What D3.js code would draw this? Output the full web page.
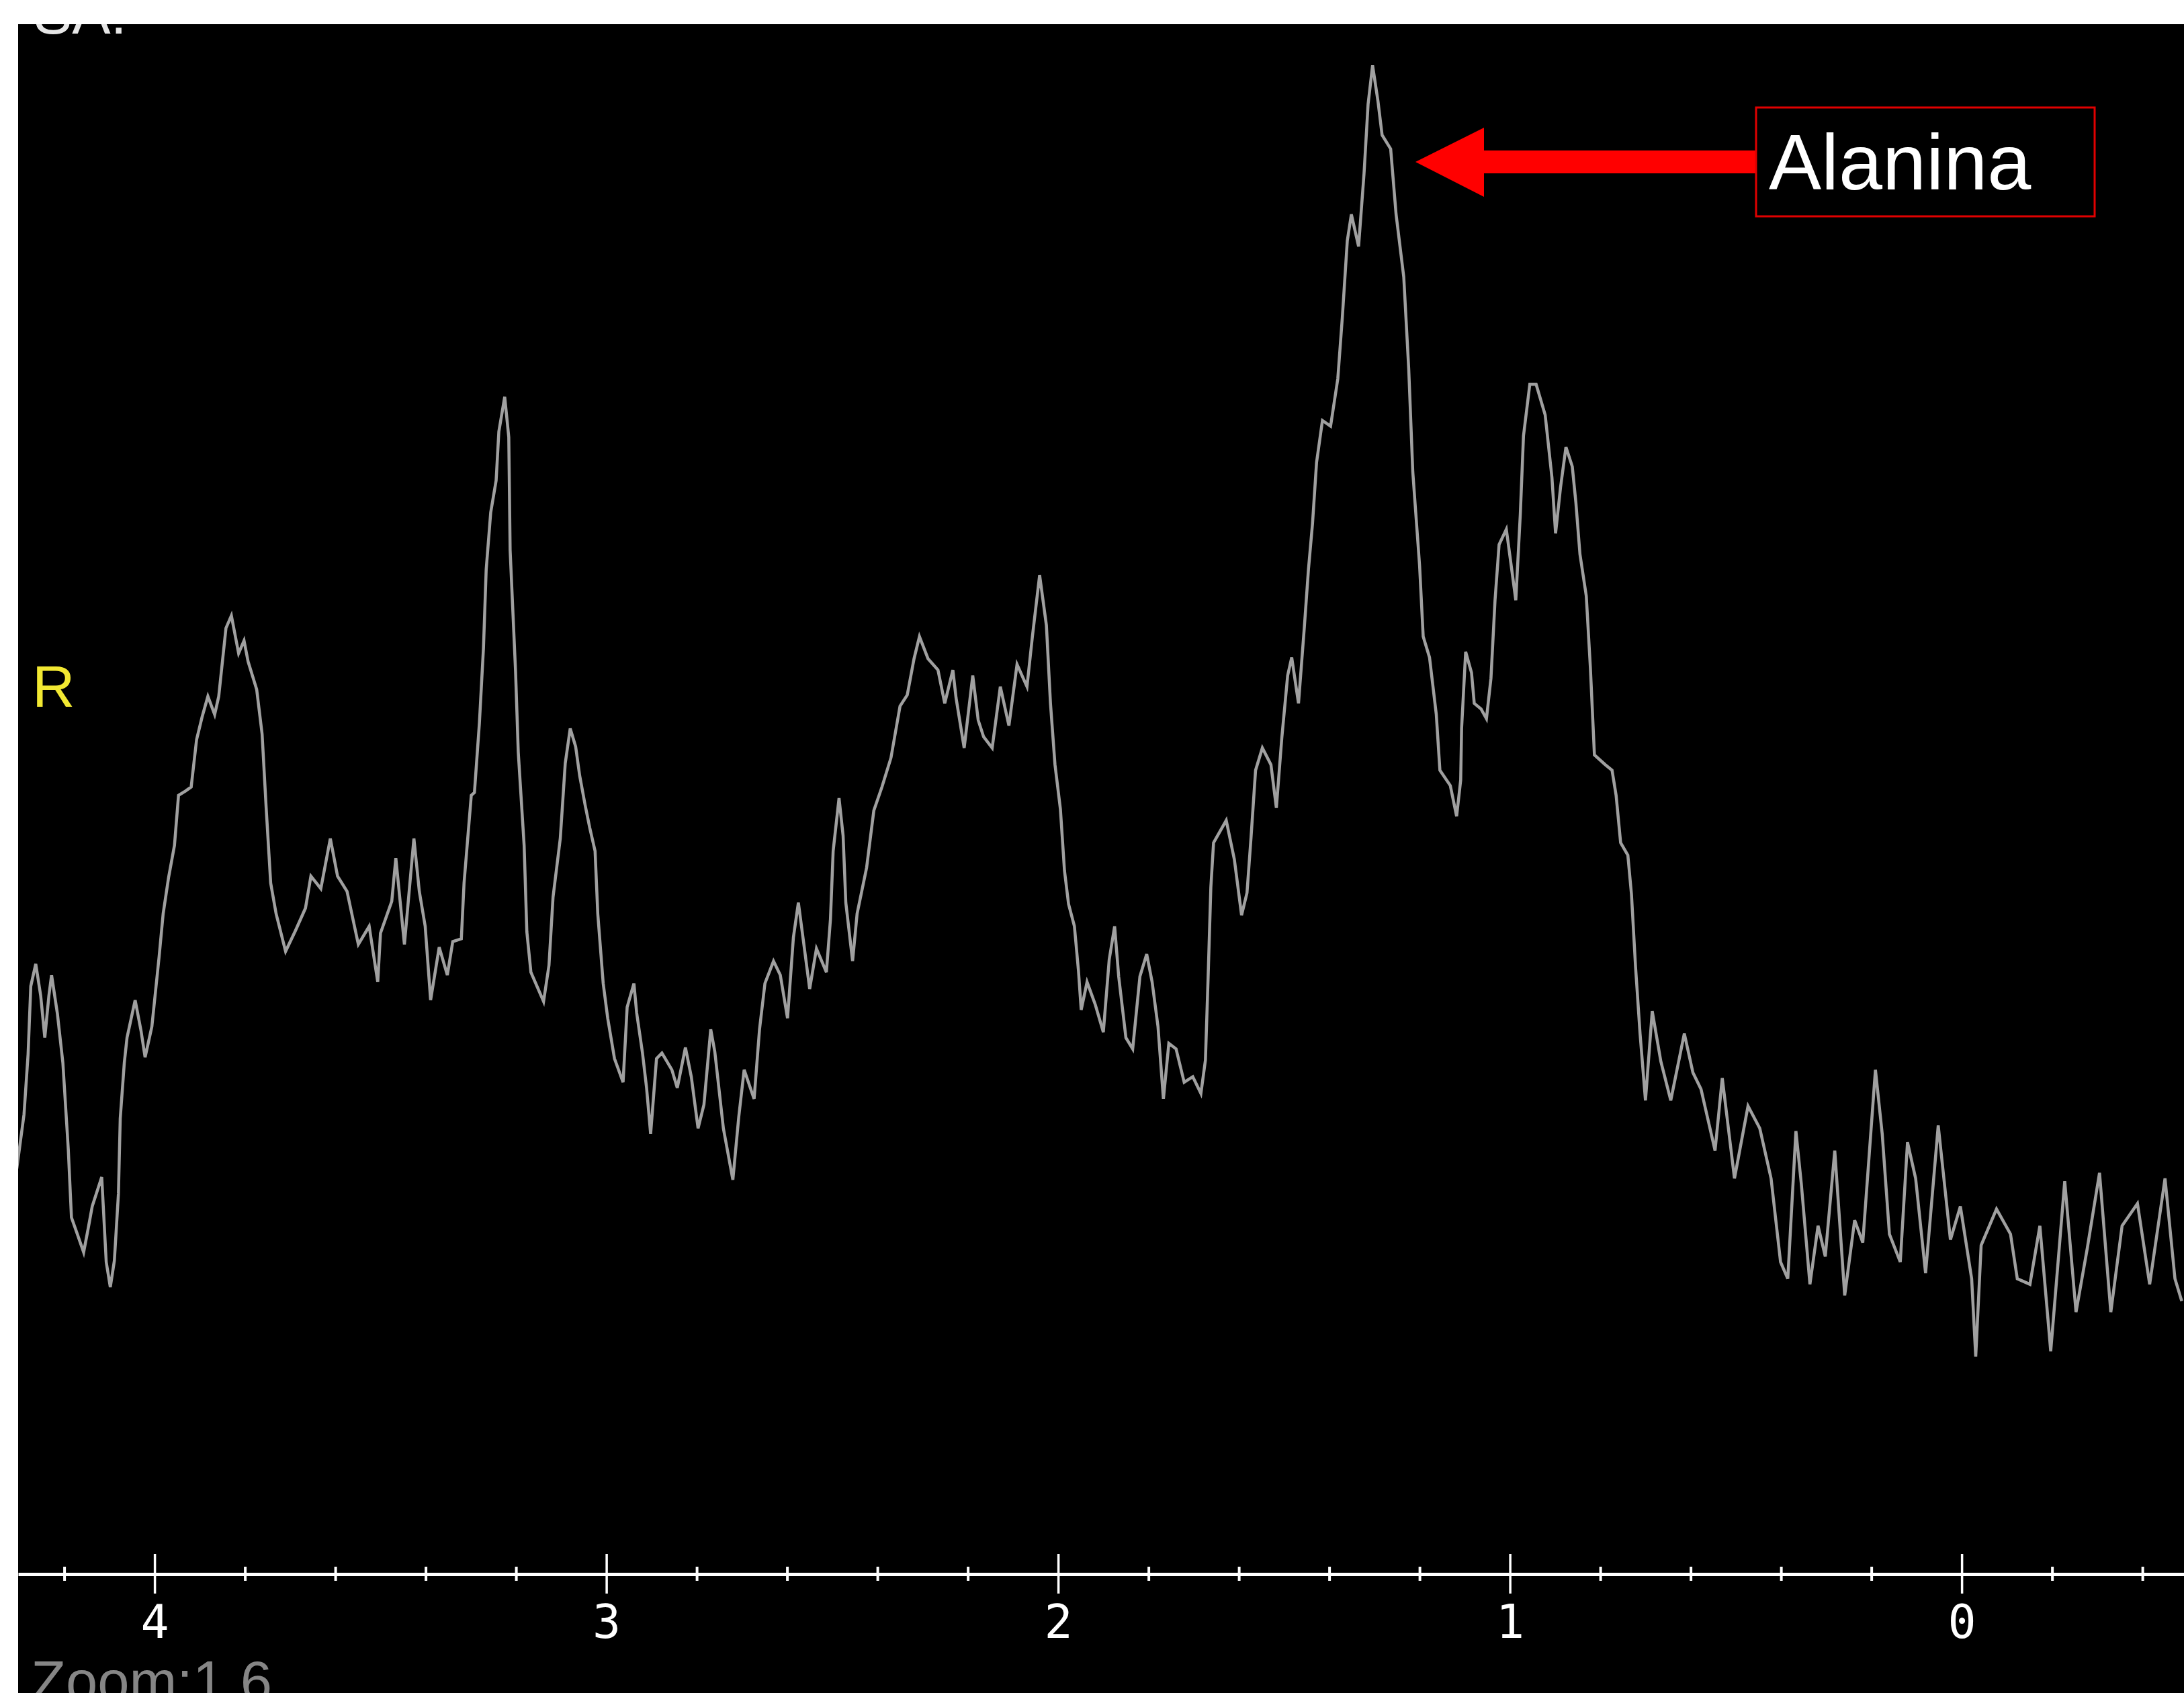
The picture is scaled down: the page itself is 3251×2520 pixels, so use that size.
<!DOCTYPE html>
<html>
<head>
<meta charset="utf-8">
<script src="https://cdn.jsdelivr.net/npm/d3@7/dist/d3.min.js"></script>
<style>
  html, body { margin: 0; padding: 0; background: #fff; }
  svg { display: block; }
</style>
</head>
<body>
<div id="chart"></div>
<script>
// chemical shift (ppm) and signal height (a.u.)
var ppm = [
  4.305, 4.289, 4.280, 4.274, 4.263, 4.252, 4.243, 4.234, 4.228, 4.215, 4.203, 4.191, 4.184, 4.172, 4.157, 4.147,
  4.138, 4.117, 4.107, 4.098, 4.089, 4.080, 4.076, 4.067, 4.061, 4.043, 4.030, 4.021, 4.006, 3.990, 3.981, 3.969,
  3.956, 3.947, 3.932, 3.919, 3.907, 3.895, 3.882, 3.867, 3.858, 3.842, 3.830, 3.814, 3.802, 3.793, 3.774, 3.762,
  3.753, 3.743, 3.731, 3.710, 3.688, 3.666, 3.654, 3.632, 3.611, 3.595, 3.574, 3.549, 3.525, 3.506, 3.500, 3.475,
  3.466, 3.447, 3.426, 3.414, 3.401, 3.389, 3.370, 3.352, 3.340, 3.321, 3.315, 3.299,
  3.292, 3.281, 3.272, 3.266, 3.256, 3.244, 3.238, 3.225, 3.216, 3.213, 3.201, 3.195, 3.182, 3.176, 3.167, 3.139,
  3.127, 3.118, 3.102, 3.091, 3.080, 3.068, 3.059, 3.047, 3.037, 3.025, 3.019, 3.007, 2.997, 2.982, 2.963, 2.954,
  2.939, 2.933, 2.920, 2.911, 2.902, 2.889, 2.877, 2.855, 2.843, 2.825, 2.812, 2.797, 2.784, 2.769, 2.760, 2.751,
  2.741, 2.720, 2.707, 2.695, 2.673, 2.661, 2.649, 2.630, 2.615, 2.599, 2.586, 2.575, 2.562, 2.550, 2.535, 2.513,
  2.504, 2.498, 2.485, 2.476, 2.470, 2.455, 2.445, 2.424, 2.408, 2.390, 2.370, 2.350, 2.334,
  2.319, 2.307, 2.288, 2.266, 2.251, 2.233, 2.226, 2.208, 2.189, 2.177, 2.165, 2.146, 2.128, 2.109, 2.091, 2.069,
  2.057, 2.041, 2.026, 2.017, 2.007, 1.995, 1.986, 1.977, 1.964, 1.955, 1.949, 1.936, 1.918, 1.900, 1.887, 1.875,
  1.866, 1.850, 1.835, 1.819, 1.804, 1.792, 1.779, 1.767, 1.755, 1.739, 1.721, 1.702, 1.684, 1.674, 1.668, 1.662,
  1.656, 1.628, 1.610, 1.594, 1.582, 1.573, 1.563, 1.548, 1.529, 1.517, 1.505, 1.492, 1.483, 1.468, 1.455, 1.446,
  1.437, 1.428, 1.415, 1.397, 1.381, 1.371, 1.360, 1.351, 1.335, 1.323, 1.314, 1.304, 1.292, 1.283, 1.264, 1.252,
  1.235, 1.224, 1.215, 1.200, 1.192, 1.178, 1.163, 1.155, 1.132, 1.118, 1.109, 1.107, 1.098, 1.085, 1.079, 1.064,
  1.052, 1.042, 1.033, 1.024, 1.008, 0.996, 0.987, 0.977, 0.970, 0.956, 0.942, 0.922, 0.907, 0.899, 0.888, 0.876,
  0.862, 0.854, 0.845, 0.831, 0.822, 0.813, 0.789, 0.774, 0.765, 0.755,
  0.739, 0.731, 0.722, 0.712, 0.700, 0.685, 0.666, 0.644, 0.614, 0.595, 0.577, 0.546, 0.530, 0.503, 0.473, 0.447,
  0.422, 0.401, 0.385, 0.367, 0.355, 0.336, 0.318, 0.302, 0.281, 0.259, 0.237, 0.219, 0.191, 0.176, 0.160, 0.136,
  0.120, 0.102, 0.080, 0.052, 0.025, 0.003, -0.022, -0.031, -0.043, -0.077, -0.108, -0.123, -0.151, -0.173, -0.197, -0.228,
  -0.253, -0.278, -0.305, -0.330, -0.355, -0.389, -0.416, -0.450, -0.472, -0.487
];
var intensity = [
  291, 330, 373, 422, 438, 415, 385, 415, 430, 402, 367, 305, 256, 245, 231, 248,
  264, 285, 224, 206, 225, 273, 327, 367, 385, 412, 390, 371, 393, 443, 474, 500,
  523, 559, 562, 565, 599, 615, 630, 617, 630, 679, 688, 661, 670, 655, 635, 603,
  550, 496, 474, 447, 462, 478, 501, 492, 528, 501, 490, 452, 465, 425, 460, 483,
  514, 452, 528, 490, 465, 412, 450, 430, 454, 456, 496, 559,
  561, 611, 665, 721, 762, 785, 820, 845, 816, 735, 648, 590, 523, 461, 432, 411,
  437, 486, 528, 582, 607, 594, 573, 552, 536, 519, 474, 424, 399, 370, 353, 407,
  424, 403, 374, 349, 316, 370, 374, 362, 349, 378, 357, 320, 337, 391, 375, 349,
  320, 283, 328, 362, 341, 391, 424, 440, 430, 399, 457, 482, 450, 420, 449, 432,
  470, 519, 557, 530, 482, 440, 474, 507, 548, 565, 586, 623, 631,
  657, 673, 657, 649, 625, 649, 629, 593, 645, 613, 601, 593, 637, 609, 653, 637,
  673, 717, 681, 625, 581, 549, 505, 481, 465, 433, 405, 425, 409, 389, 441, 465,
  429, 385, 377, 429, 445, 425, 393, 341, 381, 377, 353, 357, 345, 369, 429, 493,
  525, 541, 513, 473, 489, 529, 577, 593, 581, 550, 600, 645, 658, 625, 680, 721,
  754, 798, 828, 824, 858, 902, 957, 976, 953, 1005, 1055, 1083, 1057, 1033, 1023, 976,
  931, 865, 791, 724, 673, 658, 617, 577, 566, 544, 570, 607, 662, 647, 625, 621,
  614, 643, 699, 739, 750, 721, 699, 761, 817, 854, 854, 832, 787, 747, 780, 809,
  795, 769, 732, 702, 651, 588, 581, 577, 559, 525,
  516, 488, 436, 388, 340, 404, 368, 340, 388, 360, 348, 304, 356, 284, 336, 320,
  284, 224, 212, 318, 280, 208, 250, 228, 304, 200, 254, 238, 362, 316, 244, 224,
  310, 284, 216, 322, 240, 264, 212, 156, 236, 262, 244, 212, 208, 250, 160, 282,
  188, 234, 288, 188, 250, 266, 208, 284, 212, 196
];
var majorTicks = [4, 3, 2, 1, 0];
var minorTicks = [4.2, 3.8, 3.6, 3.4, 3.2, 2.8, 2.6, 2.4, 2.2, 1.8, 1.6, 1.4, 1.2, 0.8, 0.6, 0.4, 0.2, -0.2, -0.4];
var peakLabel = "Alanina";
var screenLabels = { top: "SA:", ref: "R", zoom: "Zoom:1.6" };

var W = 3251, H = 2520;
var panel = { left: 27, top: 36 };
var axisY = 2343;

var svg = d3.select("#chart").append("svg")
    .attr("width", W)
    .attr("height", H);

svg.append("rect").attr("width", W).attr("height", H).attr("fill", "#fff");

svg.append("clipPath").attr("id", "panel-clip")
  .append("rect")
    .attr("x", panel.left).attr("y", panel.top)
    .attr("width", W - panel.left).attr("height", H - panel.top);

var g = svg.append("g").attr("clip-path", "url(#panel-clip)");

g.append("rect")
    .attr("x", panel.left).attr("y", panel.top)
    .attr("width", W - panel.left).attr("height", H - panel.top)
    .attr("fill", "#000");

var x = d3.scaleLinear().domain([4.302, -0.492]).range([panel.left, W]);
var y = d3.scaleLinear().domain([0, 1113]).range([axisY, 35]);

var data = ppm.map(function(d, i) { return { ppm: d, v: intensity[i] }; });

var line = d3.line()
    .x(function(d) { return x(d.ppm); })
    .y(function(d) { return y(d.v); });

g.append("path")
    .datum(data)
    .attr("fill", "none")
    .attr("stroke", "#a0a0a0")
    .attr("stroke-width", 4.5)
    .attr("stroke-linejoin", "miter")
    .attr("d", line);

// minor ticks
var minor = g.append("g")
    .attr("transform", "translate(0," + axisY + ")")
    .call(d3.axisBottom(x).tickValues(minorTicks).tickSize(0).tickSizeOuter(0).tickFormat(""));
minor.select(".domain").remove();
minor.selectAll(".tick line")
    .attr("y1", -11).attr("y2", 10)
    .attr("stroke", "#fff").attr("stroke-width", 4);

// major ticks + axis line
var major = g.append("g")
    .attr("transform", "translate(0," + axisY + ")")
    .call(d3.axisBottom(x).tickValues(majorTicks).tickSizeOuter(0).tickFormat(d3.format("d")));
major.select(".domain")
    .attr("stroke", "#fff").attr("stroke-width", 5);
major.selectAll(".tick line")
    .attr("y1", -30).attr("y2", 29)
    .attr("stroke", "#fff").attr("stroke-width", 3.5);
major.selectAll(".tick text")
    .attr("y", 95).attr("dy", 0)
    .attr("fill", "#fff")
    .attr("font-family", "DejaVu Sans Mono")
    .attr("font-size", 70);

// screen texts
g.append("text")
    .attr("x", 50).attr("y", 50)
    .attr("font-family", "Liberation Sans")
    .attr("font-size", 86)
    .attr("fill", "#e6e6e6")
    .text(screenLabels.top);

g.append("text")
    .attr("x", 48).attr("y", 1052)
    .attr("font-family", "Liberation Sans")
    .attr("font-size", 88)
    .attr("fill", "#f2e832")
    .text(screenLabels.ref);

g.append("text")
    .attr("x", 46).attr("y", 2532)
    .attr("font-family", "Liberation Sans")
    .attr("font-size", 85)
    .attr("fill", "#868686")
    .text(screenLabels.zoom);

// annotation arrow + label box
var box = { x: 2614, y: 160, w: 504, h: 162 };
var tip = { x: 2107, y: 241 };
var arrowPts = [
  [tip.x, tip.y], [2209, 190], [2209, 224], [box.x, 224],
  [box.x, 258], [2209, 258], [2209, 293]
];
g.append("path")
    .attr("d", d3.line()(arrowPts) + "Z")
    .attr("fill", "#ff0000");

g.append("rect")
    .attr("x", box.x).attr("y", box.y)
    .attr("width", box.w).attr("height", box.h)
    .attr("fill", "none")
    .attr("stroke", "#e00000")
    .attr("stroke-width", 3);

g.append("text")
    .attr("x", 2633).attr("y", 282)
    .attr("font-family", "Liberation Sans")
    .attr("font-size", 117)
    .attr("fill", "#fff")
    .text(peakLabel);
</script>
</body>
</html>
